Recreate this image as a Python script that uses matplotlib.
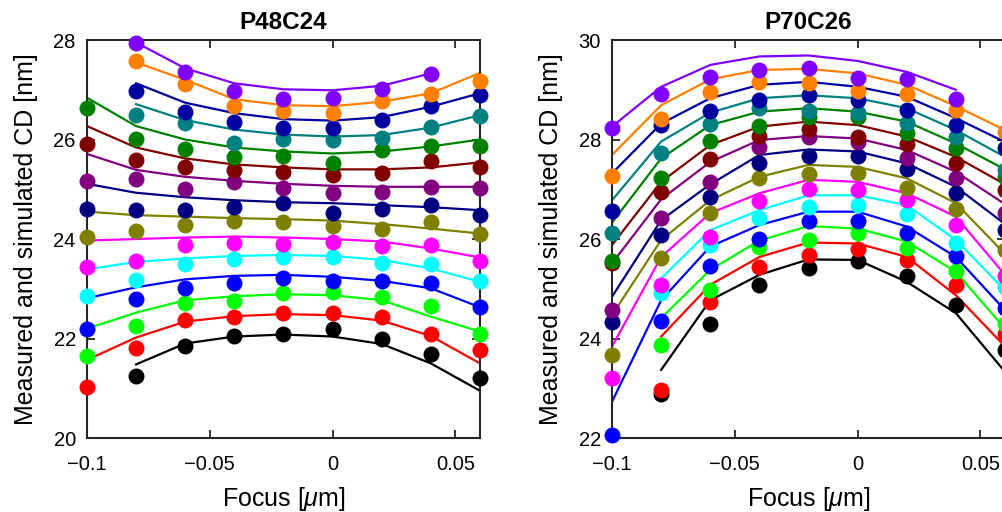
import numpy as np
import matplotlib
matplotlib.use("Agg")
import matplotlib.pyplot as plt

plt.rcParams["font.family"] = ["Liberation Sans", "DejaVu Sans"]
plt.rcParams["mathtext.fontset"] = "custom"
plt.rcParams["mathtext.rm"] = "Liberation Sans"
plt.rcParams["mathtext.it"] = "Liberation Sans:italic"

nan = np.nan
focus = [-0.1, -0.08, -0.06, -0.04, -0.02, 0.0, 0.02, 0.04, 0.06]

# series colours, listed top curve -> bottom curve
colors = ["#8000ff", "#ff8000", "#0000a0", "#008080", "#008000", "#800000",
          "#800080", "#000080", "#808000", "#ff00ff", "#00ffff", "#0000ff",
          "#00ff00", "#ff0000", "#000000"]

# ---- P48C24 : measured (dots) and simulated (lines) CD [nm] ----
p48_meas = [
    [nan, 27.95, 27.35, 26.97, 26.81, 26.83, 27.01, 27.32, nan],
    [nan, 27.58, 27.11, 26.67, 26.57, 26.54, 26.77, 26.91, 27.18],
    [nan, 26.98, 26.55, 26.36, 26.24, 26.24, 26.39, 26.67, 26.89],
    [nan, 26.49, 26.33, 25.94, 26.01, 25.99, 26.04, 26.26, 26.47],
    [26.63, 26.02, 25.80, 25.65, 25.67, 25.52, 25.78, 25.87, 25.87],
    [25.92, 25.59, 25.44, 25.39, 25.35, 25.29, 25.33, 25.57, 25.45],
    [25.17, 25.20, 25.01, 25.15, 25.02, 24.92, 24.95, 25.05, 25.02],
    [24.60, 24.58, 24.58, 24.65, 24.72, 24.52, 24.60, 24.68, 24.48],
    [24.05, 24.17, 24.28, 24.37, 24.35, 24.26, 24.21, 24.35, 24.11],
    [23.44, 23.56, 23.87, 23.93, 23.91, 23.95, 23.85, 23.88, 23.56],
    [22.85, 23.18, 23.49, 23.59, 23.63, 23.64, 23.52, 23.50, 23.16],
    [22.20, 22.79, 23.01, 23.12, 23.21, 23.16, 23.16, 23.11, 22.63],
    [21.65, 22.25, 22.71, 22.76, 22.92, 22.94, 22.84, 22.65, 22.09],
    [21.03, 21.81, 22.37, 22.44, 22.51, 22.52, 22.44, 22.10, 21.76],
    [nan, 21.25, 21.84, 22.05, 22.10, 22.20, 22.00, 21.69, 21.20],
]
p48_sim = [
    [nan, 27.95, 27.43, 27.13, 27.01, 26.99, 27.08, 27.33, nan],
    [nan, 27.55, 27.20, 26.81, 26.69, 26.67, 26.76, 26.93, 27.34],
    [nan, 27.13, 26.74, 26.53, 26.41, 26.38, 26.45, 26.66, 26.93],
    [nan, 26.71, 26.39, 26.20, 26.10, 26.06, 26.09, 26.24, 26.49],
    [26.84, 26.27, 26.00, 25.84, 25.76, 25.72, 25.76, 25.86, 26.00],
    [26.27, 25.84, 25.62, 25.50, 25.44, 25.40, 25.40, 25.44, 25.54],
    [25.71, 25.39, 25.25, 25.17, 25.11, 25.07, 25.05, 25.05, 25.05],
    [25.11, 24.93, 24.84, 24.78, 24.74, 24.72, 24.68, 24.64, 24.58],
    [24.55, 24.48, 24.45, 24.42, 24.40, 24.37, 24.30, 24.21, 24.11],
    [23.97, 24.00, 24.03, 24.05, 24.03, 24.00, 23.95, 23.81, 23.63],
    [23.39, 23.54, 23.61, 23.66, 23.68, 23.66, 23.58, 23.41, 23.14],
    [22.81, 23.03, 23.19, 23.26, 23.28, 23.24, 23.16, 23.01, 22.63],
    [22.20, 22.52, 22.77, 22.85, 22.89, 22.87, 22.77, 22.44, 22.14],
    [21.57, 22.02, 22.34, 22.45, 22.49, 22.47, 22.36, 22.05, 21.50],
    [nan, 21.48, 21.90, 22.04, 22.08, 22.04, 21.89, 21.50, 20.95],
]

# ---- P70C26 ----
p70_meas = [
    [28.24, 28.91, 29.26, 29.40, 29.44, 29.23, 29.22, 28.81, nan],
    [27.27, 28.41, 28.95, 29.15, 29.13, 28.98, 28.91, 28.59, 28.16],
    [26.57, 28.29, 28.57, 28.79, 28.89, 28.79, 28.59, 28.29, 27.82],
    [26.13, 27.72, 28.31, 28.64, 28.57, 28.53, 28.33, 28.06, 27.39],
    [25.56, 27.23, 27.98, 28.28, 28.45, 28.45, 28.14, 27.82, 27.25],
    [25.51, 26.95, 27.60, 28.07, 28.22, 28.06, 27.92, 27.52, 26.98],
    [24.57, 26.42, 27.15, 27.84, 28.06, 27.96, 27.62, 27.22, 26.52],
    [24.34, 26.08, 26.85, 27.53, 27.67, 27.67, 27.40, 26.93, 26.18],
    [23.67, 25.61, 26.52, 27.22, 27.31, 27.33, 27.02, 26.60, 25.78],
    [23.20, 25.08, 26.05, 26.77, 27.00, 26.99, 26.78, 26.28, 25.26],
    [nan, 24.91, 25.88, 26.42, 26.65, 26.68, 26.50, 25.93, 25.03],
    [22.06, 24.36, 25.46, 26.01, 26.37, 26.37, 26.13, 25.66, 24.61],
    [nan, 23.87, 24.97, 25.83, 25.99, 26.13, 25.81, 25.36, 24.29],
    [nan, 22.96, 24.74, 25.43, 25.68, 25.79, 25.58, 25.08, 24.10],
    [nan, 22.88, 24.29, 25.08, 25.41, 25.56, 25.26, 24.67, 23.77],
]
p70_sim = [
    [28.26, 29.06, 29.50, 29.67, 29.69, 29.58, 29.36, 29.00, nan],
    [27.69, 28.69, 29.21, 29.40, 29.42, 29.33, 29.10, 28.67, 28.19],
    [27.32, 28.32, 28.83, 29.10, 29.16, 29.06, 28.86, 28.43, 27.95],
    [26.78, 27.96, 28.54, 28.83, 28.89, 28.83, 28.63, 28.19, 27.65],
    [26.33, 27.62, 28.29, 28.56, 28.63, 28.56, 28.36, 27.92, 27.40],
    [25.88, 27.15, 27.89, 28.26, 28.36, 28.29, 28.06, 27.65, 27.10],
    [25.51, 26.80, 27.55, 27.99, 28.07, 28.02, 27.79, 27.35, 26.70],
    [24.84, 26.38, 27.10, 27.69, 27.80, 27.76, 27.52, 27.05, 26.30],
    [24.47, 25.98, 26.78, 27.25, 27.49, 27.45, 27.22, 26.72, 25.70],
    [23.84, 25.64, 26.52, 26.92, 27.19, 27.15, 26.92, 26.45, 25.28],
    [nan, 25.21, 26.18, 26.58, 26.88, 26.88, 26.68, 25.98, 24.97],
    [22.73, 24.77, 25.85, 26.28, 26.55, 26.55, 26.25, 25.64, 24.57],
    [nan, 24.41, 25.38, 25.97, 26.26, 26.21, 25.95, 25.34, 24.20],
    [nan, 24.04, 25.08, 25.64, 25.93, 25.91, 25.64, 24.87, 23.84],
    [nan, 23.37, 24.77, 25.28, 25.59, 25.58, 25.14, 24.51, 23.33],
]

panels = [
    ("P48C24", p48_meas, p48_sim, (20, 28), [20, 22, 24, 26, 28]),
    ("P70C26", p70_meas, p70_sim, (22, 30), [22, 24, 26, 28, 30]),
]
xticks = [-0.1, -0.05, 0, 0.05]
xtick_labels = ["\u22120.1", "\u22120.05", "0", "0.05"]

fig = plt.figure(figsize=(10.02, 5.12), dpi=100)
axes = [fig.add_axes([0.0868, 0.1445, 0.3922, 0.7773]),
        fig.add_axes([0.6108, 0.1445, 0.3922, 0.7773])]

edge = "#262626"
for ax, (title, meas, sim, ylim, yticks) in zip(axes, panels):
    # bottom curve first so upper colours sit on top
    for k in range(len(colors) - 1, -1, -1):
        ax.plot(focus, sim[k], "-", color=colors[k], lw=1.6, zorder=2)
        ax.plot(focus, meas[k], "o", color=colors[k], ms=11.5, mec="none",
                zorder=3, clip_on=False)
    ax.set_xlim(-0.1, 0.06)
    ax.set_ylim(*ylim)
    ax.set_xticks(xticks)
    ax.set_xticklabels(xtick_labels)
    ax.set_yticks(yticks)
    ax.tick_params(direction="in", length=6, width=1.3, top=True, right=True,
                   labelsize=14.5, colors=edge, labelcolor="black", pad=8)
    ax.tick_params(axis="x", pad=12)
    for s in ax.spines.values():
        s.set_linewidth(1.5)
        s.set_color(edge)
    ax.set_title(title, fontsize=17.5, fontweight="bold", pad=8)
    ax.set_xlabel(r"Focus [$\mu$m]", fontsize=18, labelpad=8)
    ax.set_ylabel("Measured and simulated CD [nm]", fontsize=18, labelpad=11)

fig.savefig("out.png", dpi=100)
